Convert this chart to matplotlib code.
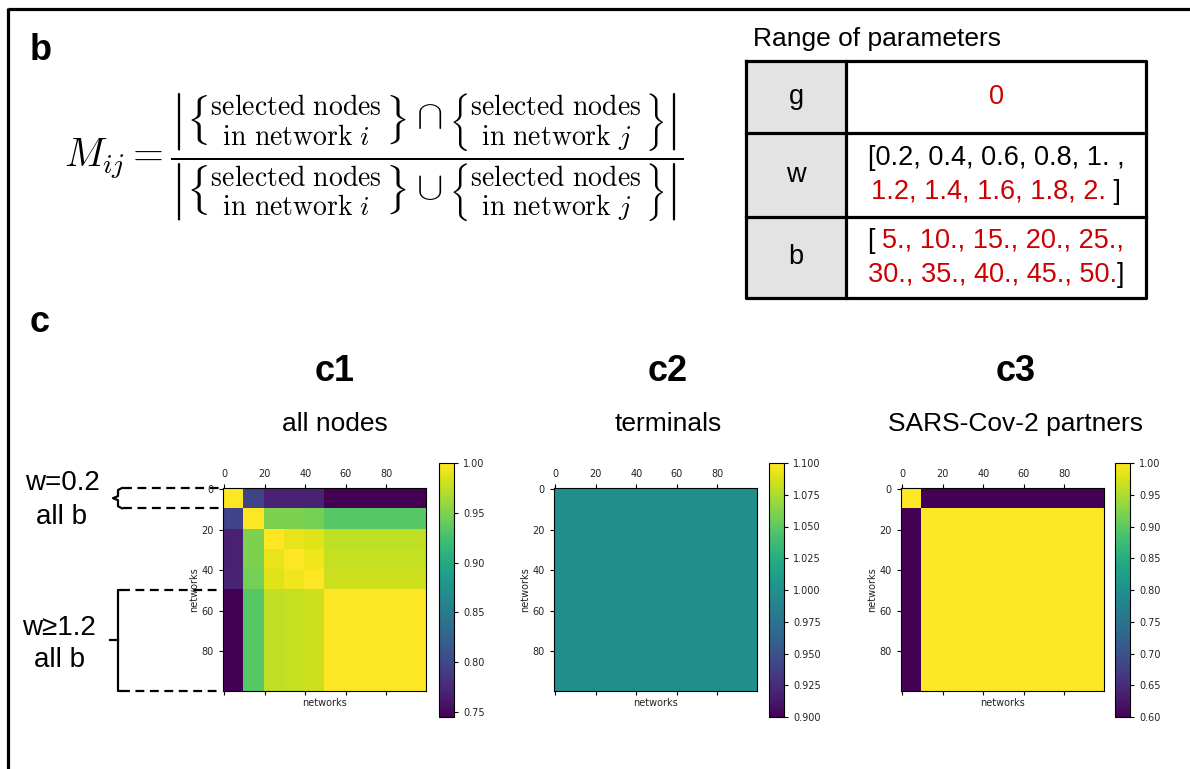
import numpy as np
import matplotlib.pyplot as plt
from matplotlib import transforms

plt.rcParams["font.family"] = ["Liberation Sans", "DejaVu Sans"]
plt.rcParams["mathtext.fontset"] = "cm"

W, H = 1190, 769

# similarity between the 10 parameter groups (each group = 10 networks)
C1_BLOCKS = [
    [1.000, 0.796, 0.768, 0.768, 0.770, 0.745, 0.745, 0.745, 0.745, 0.745],
    [0.796, 1.000, 0.950, 0.950, 0.947, 0.934, 0.934, 0.934, 0.934, 0.934],
    [0.768, 0.950, 1.000, 0.992, 0.988, 0.976, 0.976, 0.976, 0.976, 0.976],
    [0.768, 0.950, 0.992, 1.000, 0.995, 0.978, 0.978, 0.978, 0.978, 0.978],
    [0.770, 0.947, 0.988, 0.995, 1.000, 0.981, 0.981, 0.981, 0.981, 0.981],
    [0.745, 0.934, 0.976, 0.978, 0.981, 1.000, 1.000, 1.000, 1.000, 1.000],
    [0.745, 0.934, 0.976, 0.978, 0.981, 1.000, 1.000, 1.000, 1.000, 1.000],
    [0.745, 0.934, 0.976, 0.978, 0.981, 1.000, 1.000, 1.000, 1.000, 1.000],
    [0.745, 0.934, 0.976, 0.978, 0.981, 1.000, 1.000, 1.000, 1.000, 1.000],
    [0.745, 0.934, 0.976, 0.978, 0.981, 1.000, 1.000, 1.000, 1.000, 1.000],
]
C2_BLOCKS = [[1.0] * 10 for _ in range(10)]
C3_BLOCKS = [[1.0] + [0.6] * 9] + [[0.6] + [1.0] * 9 for _ in range(9)]
BLOCK = 10

PANELS = ["c1", "c2", "c3"]
SUBTITLES = ["all nodes", "terminals", "SARS-Cov-2 partners"]
CBAR_TICKS = [
    [0.75, 0.80, 0.85, 0.90, 0.95, 1.00],
    [0.900, 0.925, 0.950, 0.975, 1.000, 1.025, 1.050, 1.075, 1.100],
    [0.60, 0.65, 0.70, 0.75, 0.80, 0.85, 0.90, 0.95, 1.00],
]
CBAR_FMT = ["%.2f", "%.3f", "%.2f"]
CLIMS = [(0.745, 1.0), (0.9, 1.1), (0.6, 1.0)]

# table of parameter ranges: (name, [(text, colour), ...] per line)
RED = "#cc0000"
PARAM_NAMES = ["g", "w", "b"]
PARAM_LINES = [
    [[("0", RED)]],
    [[("[0.2, 0.4, 0.6, 0.8, 1. ,", "black")],
     [("1.2, 1.4, 1.6, 1.8, 2.", RED), (" ]", "black")]],
    [[("[ ", "black"), ("5., 10., 15., 20., 25.,", RED)],
     [("30., 35., 40., 45., 50.", RED), ("]", "black")]],
]


def px_axes(fig, x, y, w, h):
    """add axes given in pixel coords (top-left origin)"""
    return fig.add_axes([x / W, 1 - (y + h) / H, w / W, h / H])


fig = plt.figure(figsize=(W / 100, H / 100), dpi=100)
bg = fig.add_axes([0, 0, 1, 1])
bg.set_xlim(0, W)
bg.set_ylim(H, 0)
bg.axis("off")

# frame
bg.plot([8, 8], [8, H], color="black", lw=2.3, solid_capstyle="butt")
bg.plot([8, W], [8.5, 8.5], color="black", lw=2.3, solid_capstyle="butt")

bg.text(30, 60, "b", fontsize=26, fontweight="bold", ha="left", va="baseline")
bg.text(30, 332, "c", fontsize=26, fontweight="bold", ha="left", va="baseline")

# formula
sel_i = r"\genfrac{\{}{\}}{0}{}{\mathrm{selected\ nodes}}{\mathrm{in\ network}\ i}"
sel_j = r"\genfrac{\{}{\}}{0}{}{\mathrm{selected\ nodes}}{\mathrm{in\ network}\ j}"
formula = (r"$M_{ij} = \dfrac{\left|" + sel_i + r"\cap" + sel_j + r"\right|}"
           r"{\left|" + sel_i + r"\cup" + sel_j + r"\right|}$")
bg.text(64, 158, formula, fontsize=28.5, ha="left", va="center")

# parameter table
bg.text(753, 46, "Range of parameters", fontsize=19, ha="left", va="baseline")
tx0, tx1, tsplit = 746, 1146, 846
row_edges = [61, 133, 217, 298]
for k in range(len(PARAM_NAMES)):
    bg.add_patch(plt.Rectangle((tx0, row_edges[k]), tsplit - tx0,
                               row_edges[k + 1] - row_edges[k],
                               facecolor="#e3e3e3", edgecolor="none"))
lw_t = 2.3
bg.plot([tx0, tx1, tx1, tx0, tx0],
        [row_edges[0], row_edges[0], row_edges[-1], row_edges[-1], row_edges[0]],
        color="black", lw=lw_t)
for ye in row_edges[1:-1]:
    bg.plot([tx0, tx1], [ye, ye], color="black", lw=lw_t)
bg.plot([tsplit, tsplit], [row_edges[0], row_edges[-1]], color="black", lw=lw_t)

line_groups = []
for k, name in enumerate(PARAM_NAMES):
    yc = (row_edges[k] + row_edges[k + 1]) / 2
    bg.text((tx0 + tsplit) / 2, yc, name, fontsize=19.5, ha="center", va="center")
    lines = PARAM_LINES[k]
    step = 34
    for n, parts in enumerate(lines):
        y = yc + (n - (len(lines) - 1) / 2) * step
        first = bg.text((tsplit + tx1) / 2, y, parts[0][0], color=parts[0][1],
                        fontsize=19.5, ha="left", va="center")
        arts = [first]
        for txt, col in parts[1:]:
            arts.append(bg.annotate(txt, xy=(1, 0), xycoords=arts[-1], color=col,
                                    fontsize=19.5, ha="left", va="bottom"))
        line_groups.append(arts)

# heatmaps
img_x = [223, 554, 901]
cbar_x = [439, 769, 1115]
centers = [335, 668, 1016]
axes = []
for k, blocks in enumerate([C1_BLOCKS, C2_BLOCKS, C3_BLOCKS]):
    mat = np.kron(np.array(blocks), np.ones((BLOCK, BLOCK)))
    ax = px_axes(fig, img_x[k], 488, 203, 203)
    im = ax.imshow(mat, cmap="viridis", vmin=CLIMS[k][0], vmax=CLIMS[k][1],
                   interpolation="nearest", aspect="auto")
    ax.set_xticks(range(0, 100, 20))
    ax.set_yticks(range(0, 100, 20))
    ax.tick_params(top=True, bottom=True, labeltop=True, labelbottom=False,
                   labelsize=7, labelcolor="#222222", length=3)
    for lab in ax.get_xticklabels() + ax.get_yticklabels():
        lab.set_family("DejaVu Sans")
    ax.set_xlabel("networks", fontsize=7, family="DejaVu Sans", color="#222222", labelpad=2)
    ax.set_ylabel("networks", fontsize=7, family="DejaVu Sans", color="#222222", labelpad=2)
    cax = px_axes(fig, cbar_x[k], 463, 15, 254)
    cb = fig.colorbar(im, cax=cax, ticks=CBAR_TICKS[k], format=CBAR_FMT[k])
    cb.ax.tick_params(labelsize=7, labelcolor="#222222", length=3)
    for lab in cb.ax.get_yticklabels():
        lab.set_family("DejaVu Sans")
    bg.text(centers[k], 381, PANELS[k], fontsize=26, fontweight="bold",
            ha="center", va="baseline")
    bg.text(centers[k], 431, SUBTITLES[k], fontsize=19, ha="center", va="baseline")
    axes.append(ax)

# brackets marking parameter groups on c1 (x in pixels, y in data rows)
ax1 = axes[0]
tr = transforms.blended_transform_factory(bg.transData, ax1.transData)
top0, top1 = -0.5, BLOCK - 0.5
bot0, bot1 = 5 * BLOCK - 0.5, 10 * BLOCK - 0.5
dash = dict(color="black", lw=1.6, ls=(0, (4, 2.5)), transform=tr, clip_on=False)
for yv in (top0, top1):
    bg.plot([123, 222], [yv, yv], **dash)
for yv in (bot0, bot1):
    bg.plot([121, 222], [yv, yv], **dash)
mid = (top0 + top1) / 2
bg.plot([122, 118, 118, 113, 118, 118, 122],
        [top0, top0 + 1, mid - 1, mid, mid + 1, top1 - 1, top1],
        color="black", lw=1.6, transform=tr, clip_on=False)
midb = (bot0 + bot1) / 2
bg.plot([121, 118, 118, 121], [bot0, bot0, bot1, bot1],
        color="black", lw=1.6, transform=tr, clip_on=False)
bg.plot([110, 118], [midb, midb], color="black", lw=1.6, transform=tr, clip_on=False)

bg.text(62, 483, "w=0.2", fontsize=20, ha="center", va="center")
bg.text(62, 517, "all b", fontsize=20, ha="center", va="center")
bg.text(59, 628, "w\u22651.2", fontsize=20, ha="center", va="center")
bg.text(59, 660, "all b", fontsize=20, ha="center", va="center")

# centre the multi-coloured table lines
fig.canvas.draw()
renderer = fig.canvas.get_renderer()
inv = bg.transData.inverted()
for arts in line_groups:
    x_left = inv.transform(arts[0].get_window_extent(renderer).p0)[0]
    x_right = inv.transform(arts[-1].get_window_extent(renderer).p1)[0]
    x, y = arts[0].get_position()
    arts[0].set_position((x - (x_right - x_left) / 2, y))

fig.savefig("out.png", dpi=100)
